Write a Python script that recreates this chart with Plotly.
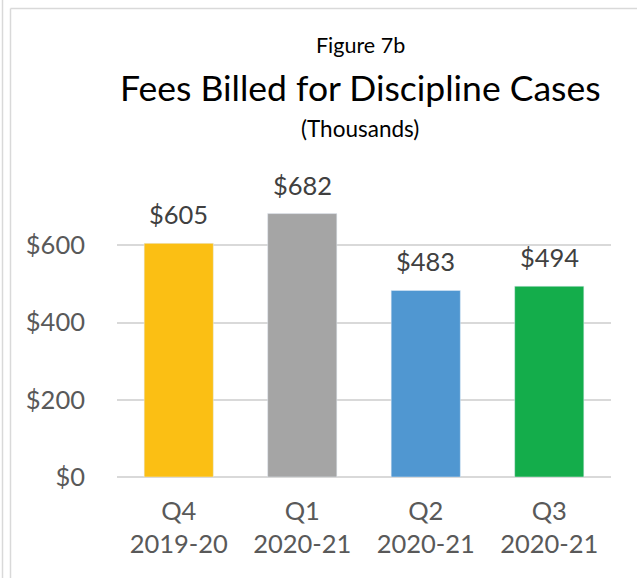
import plotly.graph_objects as go

categories = ["Q4<br>2019-20", "Q1<br>2020-21", "Q2<br>2020-21", "Q3<br>2020-21"]
values = [605, 682, 483, 494]
labels = ["$605", "$682", "$483", "$494"]
colors = ["#FBBF14", "#A5A5A5", "#5097D1", "#14AD4B"]
tick_vals = [0, 200, 400, 600]
tick_text = ["$0", "$200", "$400", "$600"]

W, H = 637, 578
L, R, T, B = 117, 26, 168, 101
pw, ph = W - L - R, H - T - B

def px(x):
    return (x - L) / pw

def py(y):
    return (H - y - B) / ph

fig = go.Figure(go.Bar(
    x=categories, y=values, marker_color=colors, width=0.56,
    hoverinfo="skip",
))

line = dict(color="#D9D9D9", width=1.5)
annotations = [
    dict(text="Figure 7b", x=px(360), y=py(45), xref="paper", yref="paper",
         xanchor="center", yanchor="middle",
         showarrow=False, font=dict(size=21.5, color="#000000", family="Lato")),
    dict(text="Fees Billed for Discipline Cases", x=px(360), y=py(88), xref="paper", yref="paper",
         xanchor="center", yanchor="middle",
         showarrow=False, font=dict(size=35.5, color="#000000", family="Lato")),
    dict(text="(Thousands)", x=px(360), y=py(128), xref="paper", yref="paper",
         xanchor="center", yanchor="middle",
         showarrow=False, font=dict(size=22.5, color="#000000", family="Lato")),
]
for c, v, t in zip(categories, values, labels):
    annotations.append(dict(text=t, x=c, y=v, xref="x", yref="y", xanchor="center",
                            yanchor="bottom", yshift=12, showarrow=False,
                            font=dict(size=25.5, color="#404040", family="Lato")))

fig.update_layout(
    width=W, height=H,
    margin=dict(l=L, r=R, t=T, b=B, autoexpand=False),
    plot_bgcolor="white", paper_bgcolor="white",
    showlegend=False,
    font=dict(family="Lato", color="#595959"),
    xaxis=dict(showgrid=False, showline=False, ticks="",
               tickfont=dict(size=25.5, color="#595959"), ticklabelstandoff=16),
    yaxis=dict(range=[0, 800], tickvals=tick_vals, ticktext=tick_text,
               showgrid=True, gridcolor="#D9D9D9", gridwidth=1.5,
               zeroline=True, zerolinecolor="#D9D9D9", zerolinewidth=1.5,
               tickfont=dict(size=25.5, color="#595959"), ticklabelstandoff=31),
    shapes=[
        dict(type="line", xref="paper", yref="paper", x0=px(2.5), x1=px(2.5), y0=py(0), y1=py(578), line=line),
        dict(type="line", xref="paper", yref="paper", x0=px(10.5), x1=px(10.5), y0=py(8.5), y1=py(578), line=line),
        dict(type="line", xref="paper", yref="paper", x0=px(10.5), x1=px(637), y0=py(8.5), y1=py(8.5), line=line),
    ],
    annotations=annotations,
)

fig.write_html("out.html", config={"displayModeBar": False},
               post_script="document.body.style.margin='0';")
